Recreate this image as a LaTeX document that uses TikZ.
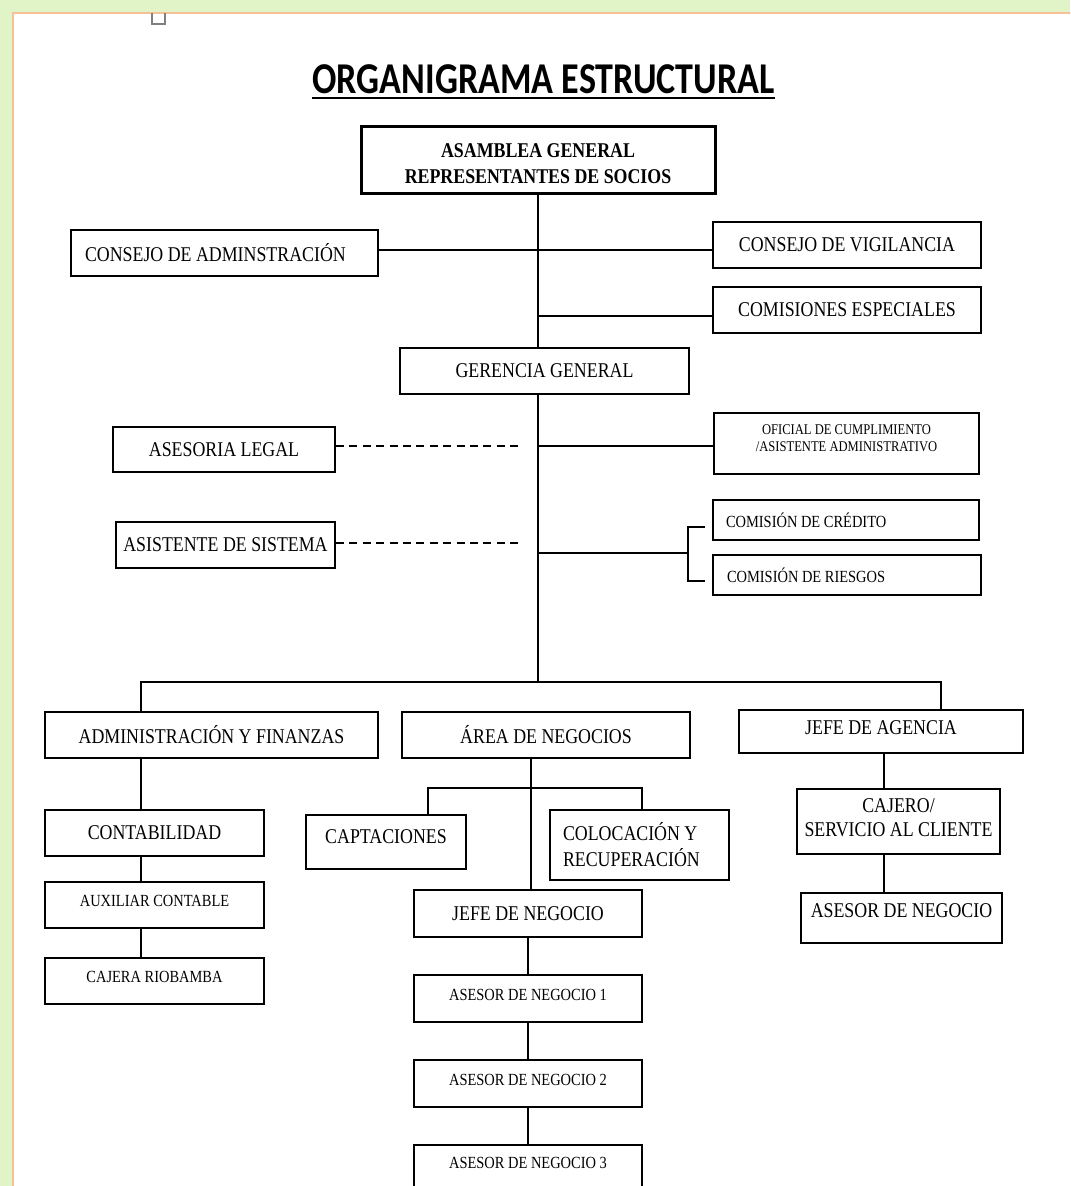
\documentclass[tikz,border=0pt]{standalone}
\usepackage{fontspec}
\newfontfamily\boxfont[FakeStretch=0.85]{Liberation Serif}
\newfontfamily\titlefont[FakeStretch=0.82]{Carlito}
\definecolor{glow}{RGB}{224,244,200}
\definecolor{pageedge}{RGB}{248,192,150}

\begin{document}
\begin{tikzpicture}[x=0.5pt, y=-0.5pt,
    box/.style={rectangle, draw=black, line width=1pt, inner sep=0pt, align=center, font=\boxfont\fontsize{10.5}{13}\selectfont},
    smallbox/.style={box, font=\boxfont\fontsize{8.5}{11}\selectfont},
    link/.style={line width=0.75pt},
    dashlink/.style={link, dash pattern=on 4pt off 2.7pt}]
    \useasboundingbox (0,0) rectangle (1070,1186);
    \clip (0,0) rectangle (1070,1186);
    % page
    \fill[glow] (0,0) rectangle (1070,1186);
    \filldraw[fill=white, draw=pageedge, line width=0.8pt] (13,13) rectangle (1090,1200);
    \draw[gray, line width=0.7pt] (152,13) -- (152,24) -- (165,24) -- (165,13);

    \node[font=\titlefont\bfseries\fontsize{22}{26}\selectfont, inner sep=0pt, anchor=base] (title) at (543.5,94) {ORGANIGRAMA ESTRUCTURAL};
    \draw[line width=1.1pt] ([yshift=-2pt]title.base west) -- ([yshift=-2pt]title.base east);

    % top levels
    \node[box, line width=1.5pt, font=\boxfont\bfseries\fontsize{10.5}{13}\selectfont, minimum width=177pt, minimum height=33.5pt, text height=23pt] (asamblea) at (538,160.5) {ASAMBLEA GENERAL\\REPRESENTANTES DE SOCIOS};
    \node[box, minimum width=153.5pt, minimum height=23pt, text width=139.5pt, align=flush left] (cadm) at (224.5,253) {CONSEJO DE ADMINSTRACIÓN};
    \node[box, minimum width=134pt, minimum height=23pt] (cvig) at (847,245) {CONSEJO DE VIGILANCIA};
    \node[box, minimum width=134pt, minimum height=23pt] (cesp) at (847,310) {COMISIONES ESPECIALES};
    \node[box, minimum width=144.5pt, minimum height=23pt] (gerencia) at (544.5,371) {GERENCIA GENERAL};

    % staff
    \node[box, minimum width=111pt, minimum height=22.5pt] (alegal) at (224,449.5) {ASESORIA LEGAL};
    \node[box, font=\boxfont\fontsize{7.4}{8.5}\selectfont, minimum width=132.5pt, minimum height=30.5pt, text depth=5.5pt] (oficial) at (846.5,443.5) {OFICIAL DE CUMPLIMIENTO\\/ASISTENTE ADMINISTRATIVO};
    \node[box, minimum width=109.5pt, minimum height=23pt] (asist) at (225.5,545) {ASISTENTE DE SISTEMA};
    \node[smallbox, minimum width=133pt, minimum height=20pt, text width=120pt, align=flush left] (ccred) at (846,520) {COMISIÓN DE CRÉDITO};
    \node[smallbox, minimum width=134pt, minimum height=20pt, text width=120pt, align=flush left] (criesgos) at (847,575) {COMISIÓN DE RIESGOS};

    % areas
    \node[box, minimum width=166.5pt, minimum height=23pt] (adm) at (211.5,735) {ADMINISTRACIÓN Y FINANZAS};
    \node[box, minimum width=144pt, minimum height=23pt] (area) at (546,735) {ÁREA DE NEGOCIOS};
    \node[box, minimum width=142pt, minimum height=21.5pt, text depth=3.5pt] (jagencia) at (881,731.5) {JEFE DE AGENCIA};

    \node[box, minimum width=109.5pt, minimum height=23pt] (conta) at (154.5,833) {CONTABILIDAD};
    \node[smallbox, minimum width=109.5pt, minimum height=23pt, text depth=4pt] (aux) at (154.5,905) {AUXILIAR CONTABLE};
    \node[smallbox, minimum width=109.5pt, minimum height=23pt, text depth=4pt] (cajera) at (154.5,981) {CAJERA RIOBAMBA};

    \node[box, minimum width=80pt, minimum height=27pt, text depth=5pt] (capt) at (386,842) {CAPTACIONES};
    \node[box, minimum width=89.5pt, minimum height=35pt, text width=76.5pt, align=flush left] (col) at (639.5,845) {COLOCACIÓN Y\\RECUPERACIÓN};
    \node[box, minimum width=114pt, minimum height=23.5pt] (jneg) at (528,913.5) {JEFE DE NEGOCIO};
    \node[smallbox, minimum width=114pt, minimum height=23.5pt, text depth=3.5pt] (as1) at (528,998.5) {ASESOR DE NEGOCIO 1};
    \node[smallbox, minimum width=114pt, minimum height=23.5pt, text depth=3.5pt] (as2) at (528,1083.5) {ASESOR DE NEGOCIO 2};
    \node[smallbox, minimum width=114pt, minimum height=23.5pt, text depth=5.5pt] (as3) at (528,1168.5) {ASESOR DE NEGOCIO 3};

    \node[box, font=\boxfont\fontsize{10.5}{12}\selectfont, minimum width=101.5pt, minimum height=32.5pt, text depth=3.5pt] (cajero) at (898.5,821.5) {CAJERO/\\SERVICIO AL CLIENTE};
    \node[box, minimum width=100.5pt, minimum height=25pt, text depth=7pt] (asesor) at (901.5,918) {ASESOR DE NEGOCIO};

    % connector points
    \coordinate (dlegal) at (523,446);
    \coordinate (dsist) at (523,543);
    \coordinate (brk) at (688,553);
    \coordinate (brtop) at (705,527);
    \coordinate (brbot) at (705,581);
    \coordinate (busL) at (141,682);
    \coordinate (busR) at (941,682);
    \coordinate (nneg) at (531,788);
    \coordinate (nbL) at (428,788);
    \coordinate (nbR) at (642,788);
    \coordinate (ag) at (884,771);

    \draw[link] (asamblea.south) -- (asamblea.south |- gerencia.north);
    \draw[link] (cadm.east |- 0,250) -- (cvig.west |- 0,250);
    \draw[link] (asamblea.south |- 0,316) -- (cesp.west |- 0,316);
    \draw[link] (asamblea.south |- gerencia.south) -- (asamblea.south |- busL);
    \draw[dashlink] (alegal.east |- dlegal) -- (dlegal);
    \draw[link] (asamblea.south |- dlegal) -- (dlegal -| oficial.west);
    \draw[dashlink] (asist.east |- dsist) -- (dsist);
    \draw[link] (asamblea.south |- brk) -- (brk);
    \draw[link] (brtop) -| (brk) |- (brbot);

    \draw[link] (busL |- adm.north) -- (busL) -- (busR) -- (busR |- jagencia.north);
    \draw[link] (busL |- adm.south) -- (busL |- conta.north);
    \draw[link] (busL |- conta.south) -- (busL |- aux.north);
    \draw[link] (busL |- aux.south) -- (busL |- cajera.north);

    \draw[link] (nneg |- area.south) -- (nneg |- jneg.north);
    \draw[link] (nbL |- capt.north) -- (nbL) -- (nbR) -- (nbR |- col.north);
    \draw[link] (jneg.south) -- (as1.north);
    \draw[link] (as1.south) -- (as2.north);
    \draw[link] (as2.south) -- (as3.north);

    \draw[link] (ag |- jagencia.south) -- (ag |- cajero.north);
    \draw[link] (ag |- cajero.south) -- (ag |- asesor.north);
\end{tikzpicture}
\end{document}
